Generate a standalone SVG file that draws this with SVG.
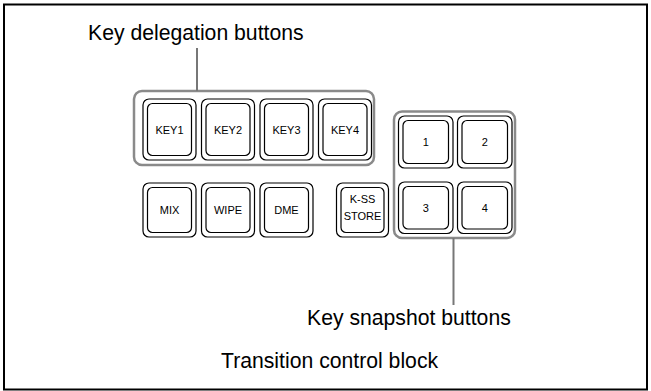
<svg xmlns="http://www.w3.org/2000/svg" width="651" height="391" viewBox="0 0 651 391">
<style>
  .frame{fill:#fff;stroke:#000;stroke-width:2}
  .grp{fill:none;stroke:#8a8a8a;stroke-width:2.5}
  .bo{fill:#fff;stroke:#000;stroke-width:1.2}
  .bi{fill:#fff;stroke:#000;stroke-width:1.2}
  .lbl{font-family:"Liberation Sans",Arial,sans-serif;font-size:11px;fill:#000;text-anchor:middle}
  .cap{font-family:"Liberation Sans",Arial,sans-serif;font-size:21.2px;fill:#000}
  .conn{stroke:#777;stroke-width:2;fill:none}
</style>
<rect class="frame" x="4" y="4.5" width="643" height="385"/>
<g id="key-delegation-group">
  <rect class="grp" x="134" y="91" width="240" height="74" rx="8"/>
</g>
<g id="key1"><rect class="bo" x="143" y="99" width="53" height="61" rx="6"/><rect class="bi" x="147.5" y="103.5" width="44" height="52" rx="5"/><text class="lbl" x="169.5" y="133.5">KEY1</text></g>
<g id="key2"><rect class="bo" x="201.5" y="99" width="53" height="61" rx="6"/><rect class="bi" x="206" y="103.5" width="44" height="52" rx="5"/><text class="lbl" x="228" y="133.5">KEY2</text></g>
<g id="key3"><rect class="bo" x="260" y="99" width="53" height="61" rx="6"/><rect class="bi" x="264.5" y="103.5" width="44" height="52" rx="5"/><text class="lbl" x="286.5" y="133.5">KEY3</text></g>
<g id="key4"><rect class="bo" x="318.5" y="99" width="53" height="61" rx="6"/><rect class="bi" x="323" y="103.5" width="44" height="52" rx="5"/><text class="lbl" x="345" y="133.5">KEY4</text></g>
<g id="mix"><rect class="bo" x="143" y="183" width="53" height="54" rx="6"/><rect class="bi" x="147.5" y="187.5" width="44" height="45" rx="5"/><text class="lbl" x="169.5" y="214">MIX</text></g>
<g id="wipe"><rect class="bo" x="201.5" y="183" width="53" height="54" rx="6"/><rect class="bi" x="206" y="187.5" width="44" height="45" rx="5"/><text class="lbl" x="228" y="214">WIPE</text></g>
<g id="dme"><rect class="bo" x="260" y="183" width="53" height="54" rx="6"/><rect class="bi" x="264.5" y="187.5" width="44" height="45" rx="5"/><text class="lbl" x="286.5" y="214">DME</text></g>
<g id="kss-store"><rect class="bo" x="336.5" y="183" width="52" height="54" rx="6"/><rect class="bi" x="341" y="187.5" width="43" height="45" rx="5"/><text class="lbl" x="362.5" y="203">K-SS</text><text class="lbl" x="362.5" y="220">STORE</text></g>
<g id="key-snapshot-group">
  <rect class="grp" x="394" y="111.5" width="121" height="126.5" rx="8"/>
</g>
<g id="snap1"><rect class="bo" x="398.5" y="116" width="54.5" height="52" rx="6"/><rect class="bi" x="403" y="120.5" width="45.5" height="43" rx="5"/><text class="lbl" x="425.7" y="146">1</text></g>
<g id="snap2"><rect class="bo" x="457.5" y="116" width="54.5" height="52" rx="6"/><rect class="bi" x="462" y="120.5" width="45.5" height="43" rx="5"/><text class="lbl" x="484.7" y="146">2</text></g>
<g id="snap3"><rect class="bo" x="398.5" y="182" width="54.5" height="51.5" rx="6"/><rect class="bi" x="403" y="186.5" width="45.5" height="42.5" rx="5"/><text class="lbl" x="425.7" y="212">3</text></g>
<g id="snap4"><rect class="bo" x="457.5" y="182" width="54.5" height="51.5" rx="6"/><rect class="bi" x="462" y="186.5" width="45.5" height="42.5" rx="5"/><text class="lbl" x="484.7" y="212">4</text></g>
<g id="connectors">
  <line class="conn" x1="197" y1="48" x2="197" y2="91"/>
  <line class="conn" x1="453.5" y1="238" x2="453.5" y2="305"/>
</g>
<g id="labels">
  <text class="cap" x="88" y="40">Key delegation buttons</text>
  <text class="cap" x="307" y="325">Key snapshot buttons</text>
  <text class="cap" x="221" y="368">Transition control block</text>
</g>
</svg>
